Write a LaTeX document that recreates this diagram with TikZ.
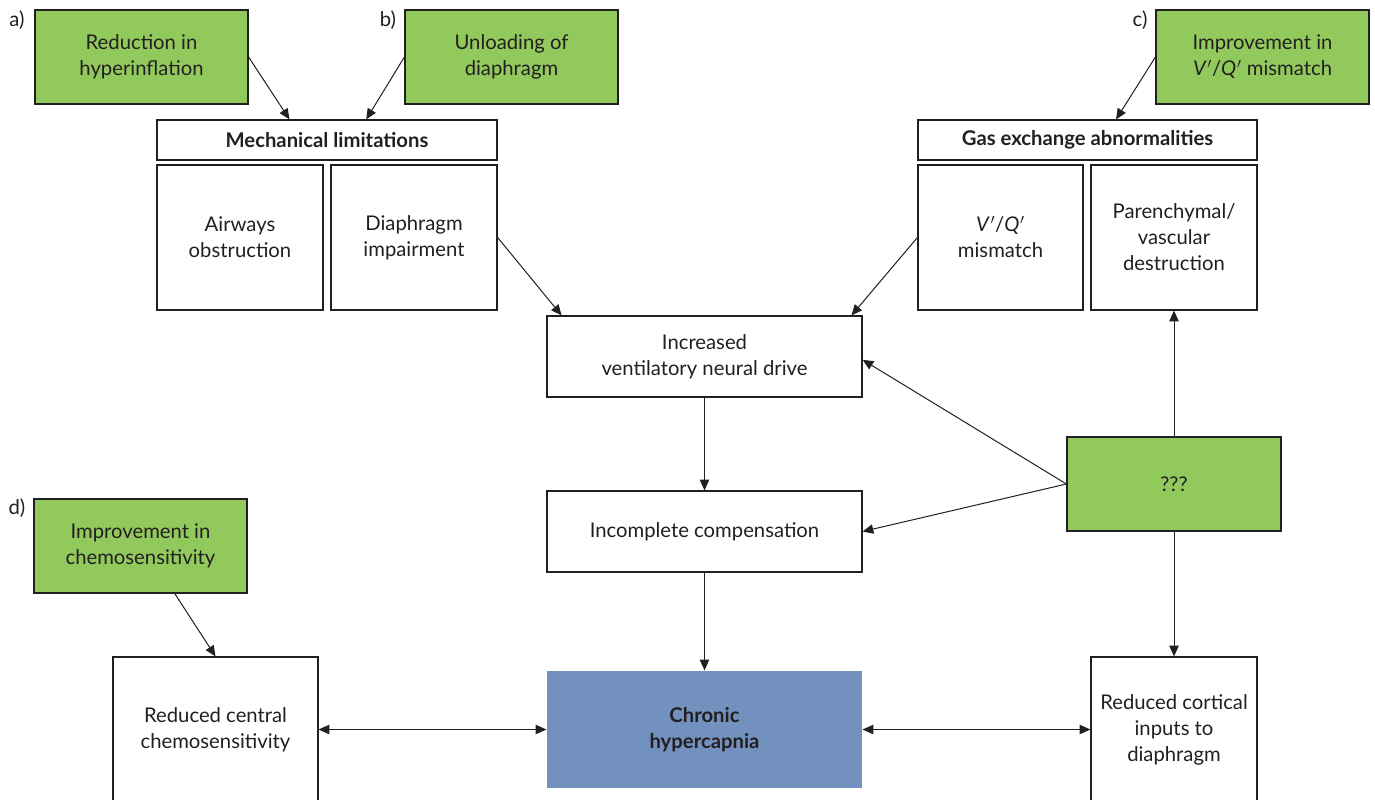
\documentclass[tikz,border=0pt]{standalone}
\usepackage{fontspec}
\setmainfont{Lato}
\usetikzlibrary{arrows.meta,calc}
\definecolor{ink}{HTML}{231F20}
\definecolor{grn}{HTML}{92C95C}
\definecolor{blu}{HTML}{7391BF}
\tikzset{
  x=0.75pt,y=-0.75pt,
  box/.style={draw=ink,line width=0.9pt,fill=white,inner sep=2pt,align=center,text=ink,font=\fontsize{15.2}{19.5}\selectfont},
  gbox/.style={box,fill=grn},
  hbox/.style={box,font=\fontsize{15.2}{19.5}\selectfont\bfseries},
  lab/.style={text=ink,font=\fontsize{15.2}{19.5}\selectfont,inner sep=0pt},
  conn/.style={draw=ink,line width=0.75pt,-{Triangle[length=8pt,width=7pt]}},
  dconn/.style={draw=ink,line width=0.75pt,{Triangle[length=8pt,width=7pt]}-{Triangle[length=8pt,width=7pt]}}
}
\newcommand{\vq}{\textit{V}\kern0.5pt$'$/\textit{Q}\kern0.5pt$'$}
\begin{document}
\begin{tikzpicture}
\clip (0,0) rectangle (1375,800);
\fill[white] (0,0) rectangle (1375,800);
% labels
\node[lab] (la) at (17,20) {a)};
\node[lab] (lb) at (388,20) {b)};
\node[lab] (lc) at (1140,20) {c)};
\node[lab] (ld) at (17,508) {d)};
% green boxes
\node[gbox,minimum width=213*0.75pt,minimum height=94*0.75pt] (A) at (141.5,57) {Reduction in\\hyperinflation};
\node[gbox,minimum width=213*0.75pt,minimum height=94*0.75pt] (B) at (511.5,57) {Unloading of\\diaphragm};
\node[gbox,minimum width=213*0.75pt,minimum height=94*0.75pt] (C) at (1262.5,57) {Improvement in\\\vq{} mismatch};
\node[gbox,minimum width=213*0.75pt,minimum height=94*0.75pt] (D) at (140.5,546) {Improvement in\\chemosensitivity};
\node[gbox,minimum width=214*0.75pt,minimum height=94*0.75pt] (Q) at (1174,484) {???};
% headers
\node[hbox,minimum width=340*0.75pt,minimum height=40*0.75pt] (mech) at (327,140) {Mechanical limitations};
\node[hbox,minimum width=339*0.75pt,minimum height=40*0.75pt] (gas) at (1087.5,140) {Gas exchange abnormalities};
% sub boxes
\node[box,minimum width=166*0.75pt,minimum height=145*0.75pt] (air) at (240,237.5) {Airways\\obstruction};
\node[box,minimum width=166*0.75pt,minimum height=145*0.75pt] (dia) at (414,237.5) {Diaphragm\\impairment};
\node[box,minimum width=165*0.75pt,minimum height=145*0.75pt] (vqb) at (1000.5,237.5) {\vq\\mismatch};
\node[box,minimum width=166*0.75pt,minimum height=145*0.75pt] (par) at (1174,237.5) {Parenchymal/\\vascular\\destruction};
% centre column
\node[box,minimum width=315*0.75pt,minimum height=81*0.75pt] (inc) at (704.5,356.5) {Increased\\ventilatory neural drive};
\node[box,minimum width=315*0.75pt,minimum height=81*0.75pt] (comp) at (704.5,531.5) {Incomplete compensation};
\node[box,draw=none,fill=blu,minimum width=315*0.75pt,minimum height=117*0.75pt,font=\fontsize{15.2}{19.5}\selectfont\bfseries] (chr) at (704.5,729.5) {Chronic\\hypercapnia};
% bottom side boxes
\node[box,minimum width=205*0.75pt,minimum height=146*0.75pt] (rc) at (215.5,730) {Reduced central\\chemosensitivity};
\node[box,minimum width=166*0.75pt,minimum height=146*0.75pt] (cort) at (1174,730) {Reduced cortical\\inputs to\\diaphragm};
% connectors
\draw[conn] (A.east) -- ($(mech.north west)!0.39!(mech.north east)$);
\draw[conn] (B.west) -- ($(mech.north west)!0.615!(mech.north east)$);
\draw[conn] (C.west) -- ($(gas.north west)!0.584!(gas.north east)$);
\draw[conn] (dia.east) -- ($(inc.north west)!0.048!(inc.north east)$);
\draw[conn] (vqb.west) -- ($(inc.north west)!0.965!(inc.north east)$);
\draw[conn] (Q.west) -- ($(inc.north east)!0.54!(inc.south east)$);
\draw[conn] (Q.west) -- (comp.east);
\draw[conn] (Q.north) -- (par.south);
\draw[conn] (Q.south) -- (cort.north);
\draw[conn] (inc.south) -- (comp.north);
\draw[conn] (comp.south) -- (chr.north);
\draw[conn] ($(D.south west)!0.66!(D.south east)$) -- (rc.north);
\draw[dconn] (rc.east |- chr.west) -- (chr.west);
\draw[dconn] (chr.east) -- (chr.east -| cort.west);
\end{tikzpicture}
\end{document}
